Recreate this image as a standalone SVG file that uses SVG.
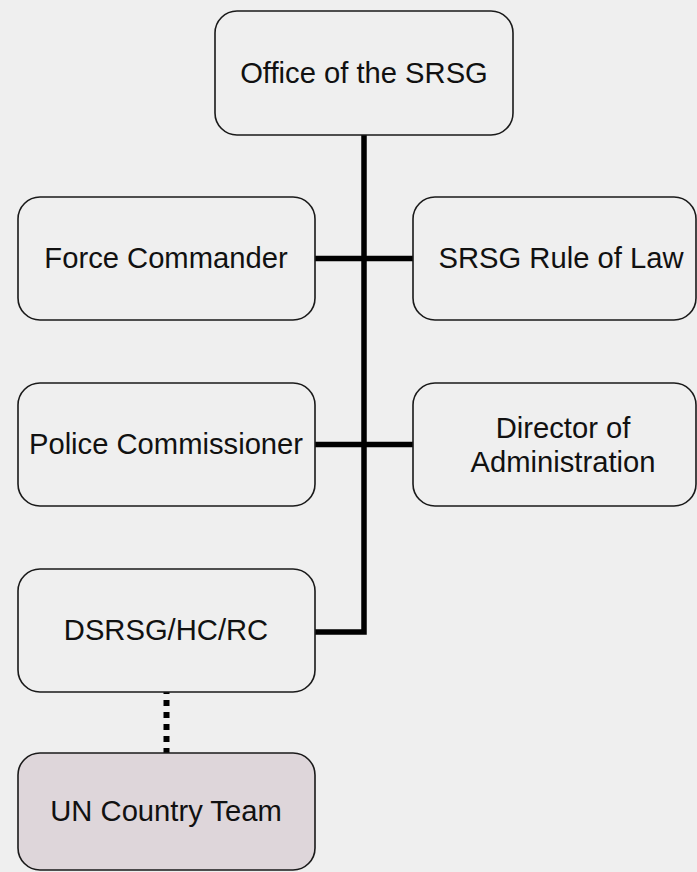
<svg xmlns="http://www.w3.org/2000/svg" width="697" height="872" viewBox="0 0 697 872">
<style>
.box{fill:#efefef;stroke:#1a1a1a;stroke-width:1.6}
.uct{fill:#ded6da}
.t{font-family:"Liberation Sans",Arial,sans-serif;font-size:29.2px;fill:#111;text-anchor:middle}
.c{fill:none;stroke:#000;stroke-width:5.5}
</style>
<rect width="697" height="872" fill="#efefef"/>
<g id="connectors">
<path class="c" d="M364 135 V632 H315"/>
<path class="c" d="M315 258.5 H413"/>
<path class="c" d="M315 444.5 H413"/>
<path d="M166.5 692 V753" fill="none" stroke="#000" stroke-width="6" stroke-dasharray="6 6" stroke-dashoffset="4"/>
</g>
<g id="office"><rect class="box" x="215" y="11" width="298" height="124" rx="22"/><text class="t" x="364" y="83">Office of the SRSG</text></g>
<g id="force"><rect class="box" x="18" y="197" width="297" height="123" rx="22"/><text class="t" x="166" y="268">Force Commander</text></g>
<g id="rol"><rect class="box" x="413" y="197" width="283" height="123" rx="22"/><text class="t" x="561" y="268">SRSG Rule of Law</text></g>
<g id="police"><rect class="box" x="18" y="383" width="297" height="123" rx="22"/><text class="t" x="166" y="454">Police Commissioner</text></g>
<g id="admin"><rect class="box" x="413" y="383" width="283" height="123" rx="22"/><text class="t" x="563" y="438">Director of</text><text class="t" x="563" y="472">Administration</text></g>
<g id="dsrsg"><rect class="box" x="18" y="569" width="297" height="123" rx="22"/><text class="t" x="166" y="640">DSRSG/HC/RC</text></g>
<g id="uncountry"><rect class="box uct" x="18" y="753" width="297" height="117" rx="22"/><text class="t" x="166" y="821">UN Country Team</text></g>
</svg>
